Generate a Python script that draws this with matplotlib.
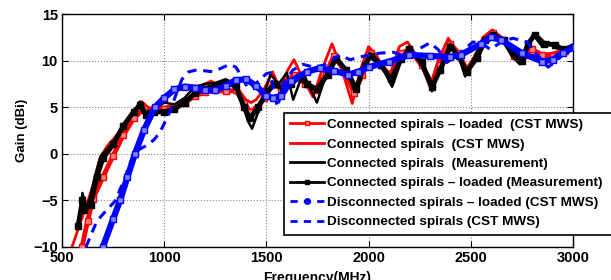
import matplotlib
matplotlib.use("Agg")
import matplotlib.pyplot as plt
from matplotlib.lines import Line2D

plt.rcParams['font.family'] = ['Liberation Sans', 'DejaVu Sans']

# ---- data ----
# Connected spirals - loaded (CST MWS)  [red with squares]
f_cl_cst = [598, 625, 652, 700, 750, 800, 850, 900, 950, 1000, 1050, 1100, 1150, 1200, 1250, 1300,
            1350, 1390, 1420, 1450, 1490, 1530, 1570, 1610, 1640, 1690, 1740, 1790, 1830, 1880,
            1930, 1970, 2010, 2060, 2110, 2160, 2200, 2260, 2310, 2350, 2400, 2440, 2480, 2530,
            2570, 2610, 2660, 2710, 2760, 2800, 2850, 2900, 2960, 3010]
g_cl_cst = [-10, -7.2, -4.8, -2.5, -0.2, 2.0, 3.8, 4.8, 4.8, 4.8, 5.0, 5.5, 6.2, 6.6, 6.8, 6.7,
            6.8, 5.5, 4.5, 4.8, 6.0, 7.5, 7.0, 8.0, 8.5, 7.5, 6.8, 8.5, 10.5, 9.0,
            6.5, 8.5, 10.8, 9.5, 8.3, 10.8, 11.2, 9.5, 7.5, 9.5, 11.8, 10.8, 9.0, 10.5,
            12.3, 13.0, 12.2, 10.5, 10.6, 11.2, 10.6, 10.5, 11.0, 11.5]

# Connected spirals (CST MWS)  [red solid]
f_c_cst = [549, 580, 620, 650, 685, 720, 760, 800, 850, 890, 920, 960, 1000, 1050, 1100, 1150,
           1200, 1230, 1270, 1320, 1360, 1400, 1425, 1450, 1490, 1530, 1565, 1605, 1635, 1680,
           1728, 1780, 1821, 1870, 1920, 1960, 2000, 2040, 2080, 2110, 2150, 2190, 2250, 2300,
           2340, 2390, 2430, 2472, 2520, 2560, 2605, 2650, 2705, 2760, 2820, 2900, 2960, 3010]
g_c_cst = [-10, -8, -5.5, -3.5, -0.5, 0.8, 1.8, 3.0, 4.3, 5.6, 5.0, 4.6, 5.0, 5.2, 5.5, 6.5,
           7.5, 7.8, 7.2, 7.4, 7.0, 5.8, 5.5, 5.8, 7.0, 8.8, 7.0, 9.0, 10.1, 8.0,
           6.1, 9.5, 11.8, 9.0, 5.4, 9.0, 11.5, 10.5, 8.8, 8.8, 11.5, 12.0, 10.0, 7.2,
           10.0, 12.4, 11.0, 8.8, 10.5, 12.5, 13.3, 12.5, 10.4, 10.6, 10.6, 10.8, 11.2, 11.6]

# Connected spirals (Measurement)  [black solid]
f_c_meas = [585, 600, 620, 640, 660, 690, 720, 760, 800, 850, 880, 910, 950, 1000, 1050, 1100,
            1150, 1200, 1250, 1300, 1350, 1380, 1410, 1430, 1460, 1490, 1520, 1560, 1600, 1631,
            1680, 1747, 1800, 1845, 1890, 1933, 1970, 2007, 2050, 2115, 2160, 2200, 2260, 2310,
            2350, 2400, 2440, 2472, 2520, 2560, 2609, 2660, 2700, 2740, 2780, 2804, 2850, 2880,
            2920, 2960, 3000]
g_c_meas = [-7.0, -4.2, -5.8, -4.5, -2.5, -0.2, 0.5, 1.5, 3.0, 4.3, 5.6, 4.5, 4.7, 5.5, 5.3, 6.0,
            7.2, 7.5, 7.6, 8.0, 7.5, 5.5, 3.5, 2.7, 4.5, 6.5, 8.5, 7.5, 8.7, 5.8,
            8.7, 5.5, 9.0, 10.4, 9.0, 6.7, 9.0, 10.8, 10.0, 7.2, 10.0, 11.5, 9.5, 6.7,
            9.0, 11.8, 10.5, 8.3, 10.5, 12.0, 13.0, 12.0, 10.5, 9.6, 11.5, 12.8, 11.5, 12.0,
            11.3, 11.3, 11.7]

# Connected spirals - loaded (Measurement)  [black with squares]
f_cl_meas = [578, 600, 610, 640, 670, 700, 750, 800, 850, 880, 910, 950, 1000, 1050, 1100, 1150,
             1200, 1250, 1300, 1350, 1390, 1420, 1460, 1500, 1540, 1580, 1620, 1660, 1700, 1747,
             1800, 1840, 1890, 1940, 1980, 2010, 2060, 2110, 2160, 2200, 2260, 2310, 2350, 2400,
             2440, 2480, 2530, 2570, 2609, 2660, 2710, 2750, 2780, 2814, 2860, 2912, 2950, 3000]
g_cl_meas = [-7.8, -5.0, -6.0, -5.5, -2.5, -0.5, 1.0, 3.0, 4.5, 5.2, 4.2, 4.5, 4.5, 4.8, 5.5, 6.5,
             7.0, 7.3, 7.6, 7.3, 5.0, 3.8, 5.0, 6.5, 7.5, 7.0, 7.5, 8.2, 7.5, 6.9,
             8.5, 10.2, 9.0, 7.0, 9.5, 10.5, 9.5, 8.0, 10.2, 11.2, 9.8, 7.2, 9.0, 11.5,
             10.5, 8.8, 10.3, 12.2, 12.8, 12.2, 10.8, 10.0, 11.8, 12.8, 11.8, 11.7, 11.2, 11.5]

# Disconnected spirals - loaded (CST MWS)  [thick blue]
f_dl_cst = [700, 750, 784, 820, 857, 900, 955, 1000, 1050, 1100, 1150, 1200, 1250, 1300, 1350,
            1400, 1450, 1500, 1530, 1570, 1620, 1700, 1760, 1830, 1900, 1950, 2000, 2100, 2200,
            2300, 2400, 2450, 2550, 2600, 2650, 2750, 2850, 2900, 2950, 3010]
g_dl_cst = [-10, -7, -5, -2.5, 0, 2.5, 5, 6, 6.9, 7.2, 7.1, 6.8, 6.8, 7.3, 7.9,
            8.0, 7.3, 6.2, 6.0, 6.2, 7.8, 8.8, 9.2, 8.9, 8.5, 8.8, 9.3, 9.9, 10.6,
            10.5, 10.4, 10.6, 11.8, 12.5, 12.2, 10.8, 9.9, 10.1, 10.8, 11.5]

# Disconnected spirals (CST MWS)  [blue dashed]
f_d_cst = [617, 671, 720, 759, 800, 847, 880, 915, 950, 979, 1028, 1060, 1087, 1120, 1160, 1200,
           1240, 1290, 1322, 1350, 1380, 1405, 1430, 1460, 1500, 1520, 1542, 1555, 1581, 1630,
           1679, 1730, 1780, 1860, 1909, 1980, 2056, 2120, 2188, 2250, 2300, 2340, 2383, 2447,
           2511, 2560, 2594, 2650, 2706, 2775, 2830, 2878, 2910, 2960, 3010]
g_d_cst = [-10, -7.2, -6, -5.1, -3, -0.2, 0.5, 0.9, 1.5, 2.3, 4.5, 6.5, 8, 8.8, 9, 8.9,
           8.8, 9.3, 9.6, 9.3, 8.3, 7.2, 7.0, 7.8, 8.6, 8.7, 6.0, 5.0, 7.5, 9.0,
           9.6, 9.3, 9.5, 10.6, 10.1, 10.5, 10.8, 10.9, 10.4, 11.3, 11.9, 11.2, 9.8, 10.8,
           12.0, 11.8, 11.2, 12.0, 12.4, 12.0, 10.5, 9.3, 9.8, 10.8, 11.5]

xticks = [500, 1000, 1500, 2000, 2500, 3000]
yticks = [-10, -5, 0, 5, 10, 15]

labels = ["Connected spirals \u2013 loaded  (CST MWS)",
          "Connected spirals  (CST MWS)",
          "Connected spirals  (Measurement)",
          "Connected spirals \u2013 loaded (Measurement)",
          "Disconnected spirals \u2013 loaded (CST MWS)",
          "Disconnected spirals (CST MWS)"]

fig = plt.figure(figsize=(6.11, 2.8), dpi=100)
ax = fig.add_axes([62/611, 1-247/280, 511/611, 233/280])

ax.plot(f_c_cst, g_c_cst, color='#ff0000', lw=2.0, zorder=3)
ax.plot(f_cl_cst, g_cl_cst, color='#ff0000', lw=3.5, marker='s', ms=4,
        mfc='#ff8080', mec='#ff0000', mew=1, zorder=3)
ax.plot(f_cl_meas, g_cl_meas, color='black', lw=3.5, marker='s', ms=4,
        mfc='black', mec='black', zorder=4)
ax.plot(f_c_meas, g_c_meas, color='black', lw=1.8, zorder=4)
ax.plot(f_d_cst, g_d_cst, color='#0000ff', lw=2.2, ls=(0, (3, 2.2)), zorder=5)
ax.plot(f_dl_cst, g_dl_cst, color='#0000ff', lw=4.5, marker='s', ms=4,
        mfc='#8080ff', mec='#0000ff', mew=1, zorder=6)

ax.set_xlim(500, 3000)
ax.set_ylim(-10, 15)
ax.set_xticks(xticks)
ax.set_yticks(yticks)
ax.grid(True, ls=':', color='#888888', lw=0.8)
ax.tick_params(direction='in', top=True, right=True, length=4, width=0.8,
               labelsize=10.5, pad=3)
for lab in ax.get_xticklabels() + ax.get_yticklabels():
    lab.set_fontweight('bold')
for s in ax.spines.values():
    s.set_linewidth(1.0)

ax.set_ylabel("Gain (dBi)", fontsize=9.5, fontweight='bold', labelpad=4)
ax.set_xlabel("Frequency(MHz)", fontsize=10, fontweight='bold', labelpad=4)

handles = [
    Line2D([], [], color='#ff0000', lw=2, marker='s', ms=3, mfc='#ff8080', mec='#ff0000'),
    Line2D([], [], color='#ff0000', lw=2),
    Line2D([], [], color='black', lw=2),
    Line2D([], [], color='black', lw=2, marker='s', ms=3),
    Line2D([], [], color='#0000ff', lw=2, ls=(0, (2.6, 2.2)), marker='o', ms=4),
    Line2D([], [], color='#0000ff', lw=2, ls=(0, (2.6, 2.2))),
]
x0 = (284 - 62) / 511
x1 = (614 - 62) / 511
y1 = (247 - 112.5) / 233
leg = ax.legend(handles, labels, loc='upper left', bbox_to_anchor=(x0, 0, x1 - x0, y1),
                mode='expand',
                prop={'size': 9.7, 'weight': 'bold'}, frameon=True, fancybox=False,
                edgecolor='black', framealpha=1, handlelength=2.5, handletextpad=0.25,
                labelspacing=0.52, borderpad=0.46, borderaxespad=0)
leg.get_frame().set_linewidth(1.2)
leg.set_zorder(10)
leg.set_clip_on(False)

fig.savefig("out.png", dpi=100)
